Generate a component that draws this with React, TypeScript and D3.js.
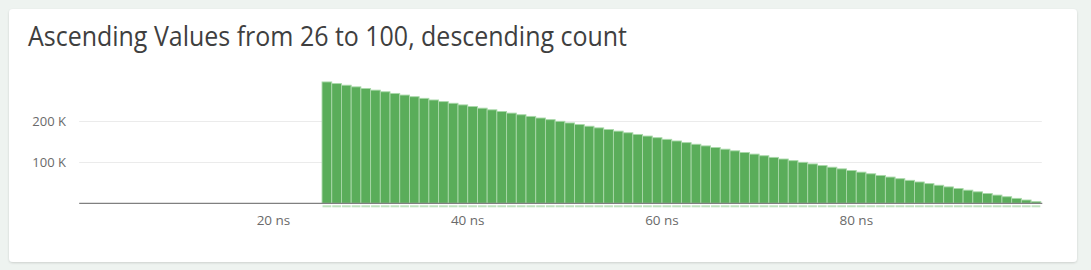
import React from "react";
import * as d3 from "d3";

const TITLE = "Ascending Values from 26 to 100, descending count";
const values = [26, 27, 28, 29, 30, 31, 32, 33, 34, 35, 36, 37, 38, 39, 40, 41, 42, 43, 44, 45, 46, 47, 48, 49, 50, 51, 52, 53, 54, 55, 56, 57, 58, 59, 60, 61, 62, 63, 64, 65, 66, 67, 68, 69, 70, 71, 72, 73, 74, 75, 76, 77, 78, 79, 80, 81, 82, 83, 84, 85, 86, 87, 88, 89, 90, 91, 92, 93, 94, 95, 96, 97, 98, 99, 100];
const counts = [296000, 292000, 288000, 284000, 280000, 276000, 272000, 268000, 264000, 260000, 256000, 252000, 248000, 244000, 240000, 236000, 232000, 228000, 224000, 220000, 216000, 212000, 208000, 204000, 200000, 196000, 192000, 188000, 184000, 180000, 176000, 172000, 168000, 164000, 160000, 156000, 152000, 148000, 144000, 140000, 136000, 132000, 128000, 124000, 120000, 116000, 112000, 108000, 104000, 100000, 96000, 92000, 88000, 84000, 80000, 76000, 72000, 68000, 64000, 60000, 56000, 52000, 48000, 44000, 40000, 36000, 32000, 28000, 24000, 20000, 16000, 12000, 8000, 4000, 0];
const xTicks = [20, 40, 60, 80];
const xTickLabels = ["20 ns", "40 ns", "60 ns", "80 ns"];
const yTicks = [100000, 200000];
const yTickLabels = ["100 K", "200 K"];

const W = 1091;
const H = 270;
const FONT = "'Open Sans', sans-serif";

export default function App() {
  const x = d3.scaleLinear().domain([0, 99]).range([79.2, 1040.8]);
  const y = d3.scaleLinear().domain([0, 300000]).range([203.3, 80.3]);
  const bars = values
    .map((v, i) => ({ v, c: counts[i] }))
    .filter((d) => d.c > 0);
  const [x0, x1] = x.range();
  return (
    <svg
      width={W}
      height={H}
      style={{ position: "absolute", left: 0, top: 0, display: "block" }}
    >
      <defs>
        <filter id="sh" x="-5%" y="-10%" width="110%" height="130%">
          <feDropShadow dx="0" dy="1" stdDeviation="1.2" floodColor="#000" floodOpacity="0.15" />
        </filter>
      </defs>
      <rect x={0} y={0} width={W} height={H} fill="#eef3f0" />
      <rect x={9} y={9} width={1068} height={253} rx={4} fill="#ffffff" filter="url(#sh)" />
      <text
        x={28}
        y={46}
        fontFamily={FONT}
        fontSize={27}
        fontWeight={500}
        fill="#3f3f3f"
        textLength={599}
        lengthAdjust="spacingAndGlyphs"
      >
        {TITLE}
      </text>
      {yTicks.map((t, i) => (
        <g key={t}>
          <line x1={x0} x2={x1 + 1} y1={Math.round(y(t)) + 0.5} y2={Math.round(y(t)) + 0.5} stroke="#ebebeb" />
          <text x={66} y={y(t)} dy="0.35em" textAnchor="end" fontFamily={FONT} fontSize={13} fill="#6a6a6a">
            {yTickLabels[i]}
          </text>
        </g>
      ))}
      {bars.map((d) => (
        <g key={d.v}>
          <rect
            x={x(d.v - 1)}
            y={y(d.c)}
            width={x(d.v) - x(d.v - 1)}
            height={y(0) - y(d.c)}
            fill="#5aad5a"
            stroke="#a9d8a9"
            strokeWidth={0.9}
          />
          <rect
            x={x(d.v - 1) + 0.5}
            y={y(0) + 2}
            width={x(d.v) - x(d.v - 1) - 1}
            height={2}
            fill="#bfe3bf"
          />
        </g>
      ))}
      <line x1={x0} x2={x1 + 1.5} y1={y(0)} y2={y(0)} stroke="#808080" strokeWidth={1.2} />
      {xTicks.map((t, i) => (
        <text key={t} x={x(t)} y={225} textAnchor="middle" fontFamily={FONT} fontSize={13.5} fill="#6a6a6a">
          {xTickLabels[i]}
        </text>
      ))}
    </svg>
  );
}
